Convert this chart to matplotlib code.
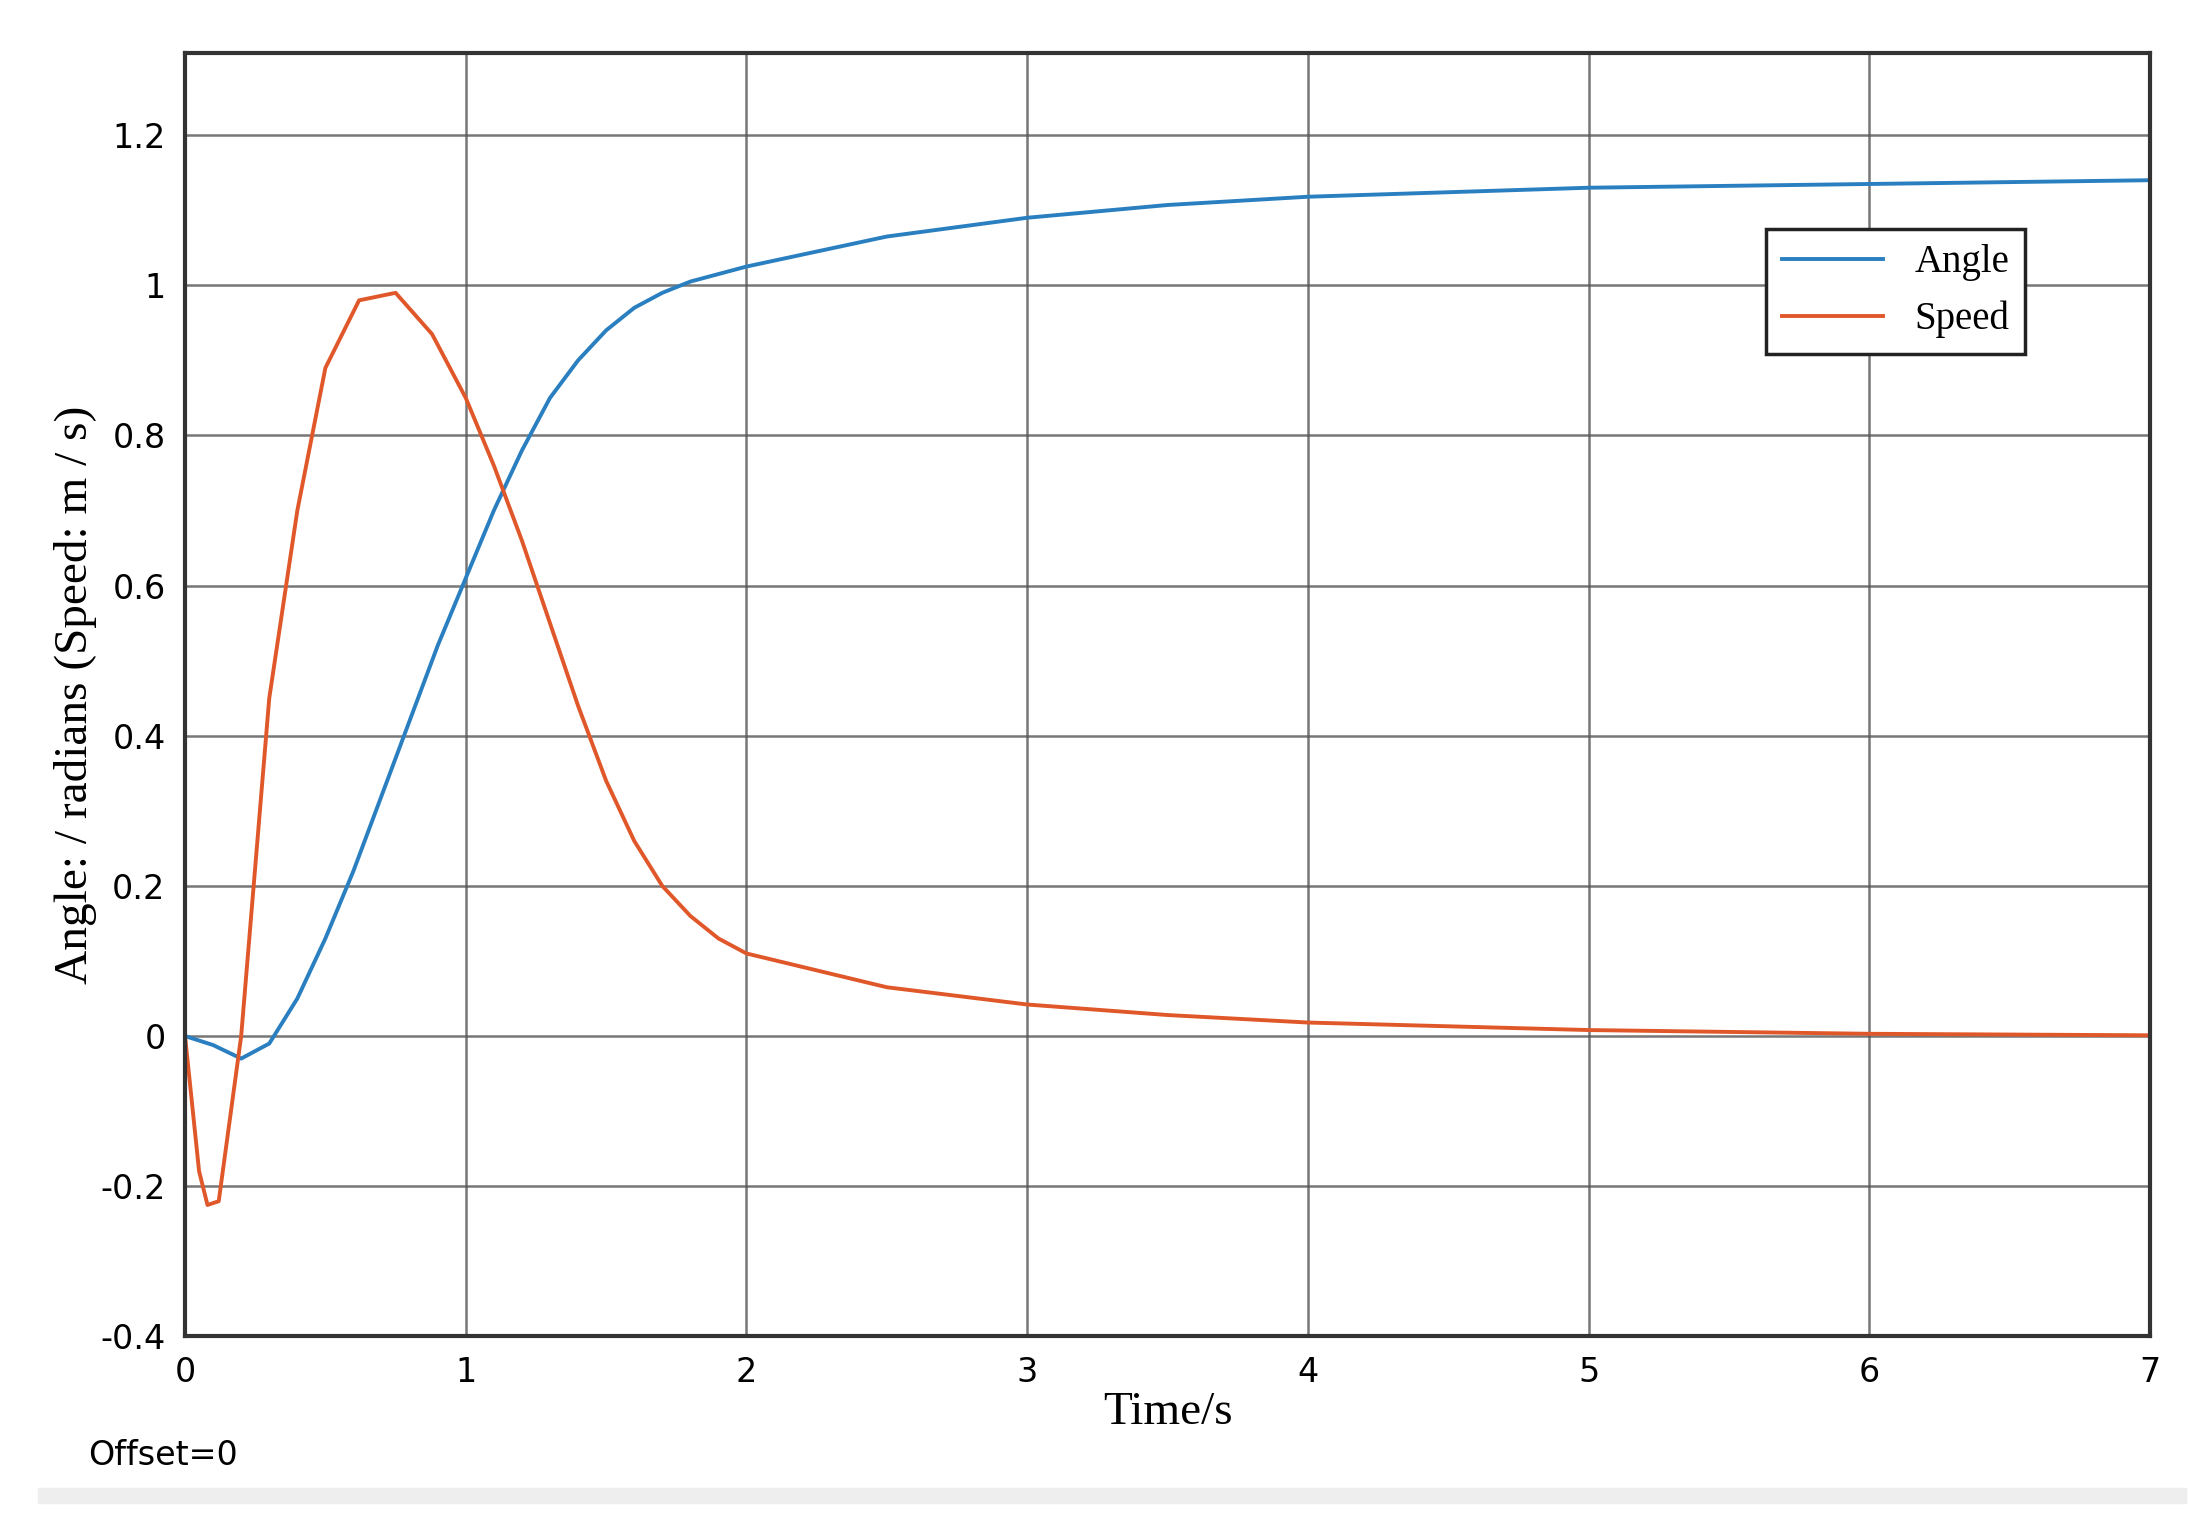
import numpy as np
import matplotlib
matplotlib.use('Agg')
import matplotlib.pyplot as plt

# Values
angle_t = [0, 0.1, 0.2, 0.3, 0.4, 0.5, 0.6, 0.7, 0.8, 0.9, 1.0, 1.1, 1.2, 1.3, 1.4,
           1.5, 1.6, 1.7, 1.8, 2.0, 2.5, 3.0, 3.5, 4.0, 5.0, 6.0, 7.0]
angle_v = [0, -0.012, -0.03, -0.01, 0.05, 0.13, 0.22, 0.32, 0.42, 0.52, 0.61, 0.70,
           0.78, 0.85, 0.90, 0.94, 0.97, 0.99, 1.005, 1.025, 1.065, 1.09, 1.107,
           1.118, 1.13, 1.135, 1.14]
speed_t = [0, 0.05, 0.08, 0.12, 0.2, 0.3, 0.4, 0.5, 0.62, 0.75, 0.88, 1.0, 1.1, 1.2,
           1.3, 1.4, 1.5, 1.6, 1.7, 1.8, 1.9, 2.0, 2.5, 3.0, 3.5, 4.0, 5.0, 6.0, 7.0]
speed_v = [0, -0.18, -0.225, -0.22, 0.0, 0.45, 0.70, 0.89, 0.98, 0.99, 0.935, 0.85,
           0.76, 0.66, 0.55, 0.44, 0.34, 0.26, 0.2, 0.16, 0.13, 0.11, 0.065, 0.042,
           0.028, 0.018, 0.008, 0.003, 0.001]
xticks = [0, 1, 2, 3, 4, 5, 6, 7]
yticks = [-0.4, -0.2, 0, 0.2, 0.4, 0.6, 0.8, 1.0, 1.2]
ytick_labels = ['-0.4', '-0.2', '0', '0.2', '0.4', '0.6', '0.8', '1', '1.2']

fig = plt.figure(figsize=(22.08, 15.29), dpi=100)
ax = fig.add_axes([0.0838, 0.126, 0.8900, 0.8396])

ax.plot(angle_t, angle_v, color='#2a7fc0', lw=2.8, label='Angle')
ax.plot(speed_t, speed_v, color='#e0572a', lw=2.8, label='Speed')

ax.set_xlim(0, 7)
ax.set_ylim(-0.4, 1.31)
ax.set_xticks(xticks)
ax.set_yticks(yticks)
ax.set_yticklabels(ytick_labels)
ax.tick_params(labelsize=24, length=0, pad=14)
ax.grid(True, color='#555555', lw=1.8, alpha=0.8)
for s in ax.spines.values():
    s.set_linewidth(3)
    s.set_color('#333333')

ax.set_xlabel('Time/s', family='Liberation Serif', fontsize=34, labelpad=2)
ax.set_ylabel('Angle: / radians (Speed: m / s)', family='Liberation Serif',
              fontsize=34, labelpad=2)

leg = ax.legend(loc='upper right', bbox_to_anchor=(0.946, 0.878),
                prop={'family': 'Liberation Serif', 'size': 28},
                fancybox=False, edgecolor='#222222', framealpha=1,
                handlelength=2.6, borderpad=0.4)
leg.get_frame().set_linewidth(2.5)

fig.text(0.04, 0.042, 'Offset=0', fontsize=24)
fig.patches.append(plt.Rectangle((0.017, 0.017), 0.973, 0.01, transform=fig.transFigure,
                                 color='#eeeeee', zorder=-1))

fig.savefig('out.png', dpi=100)
